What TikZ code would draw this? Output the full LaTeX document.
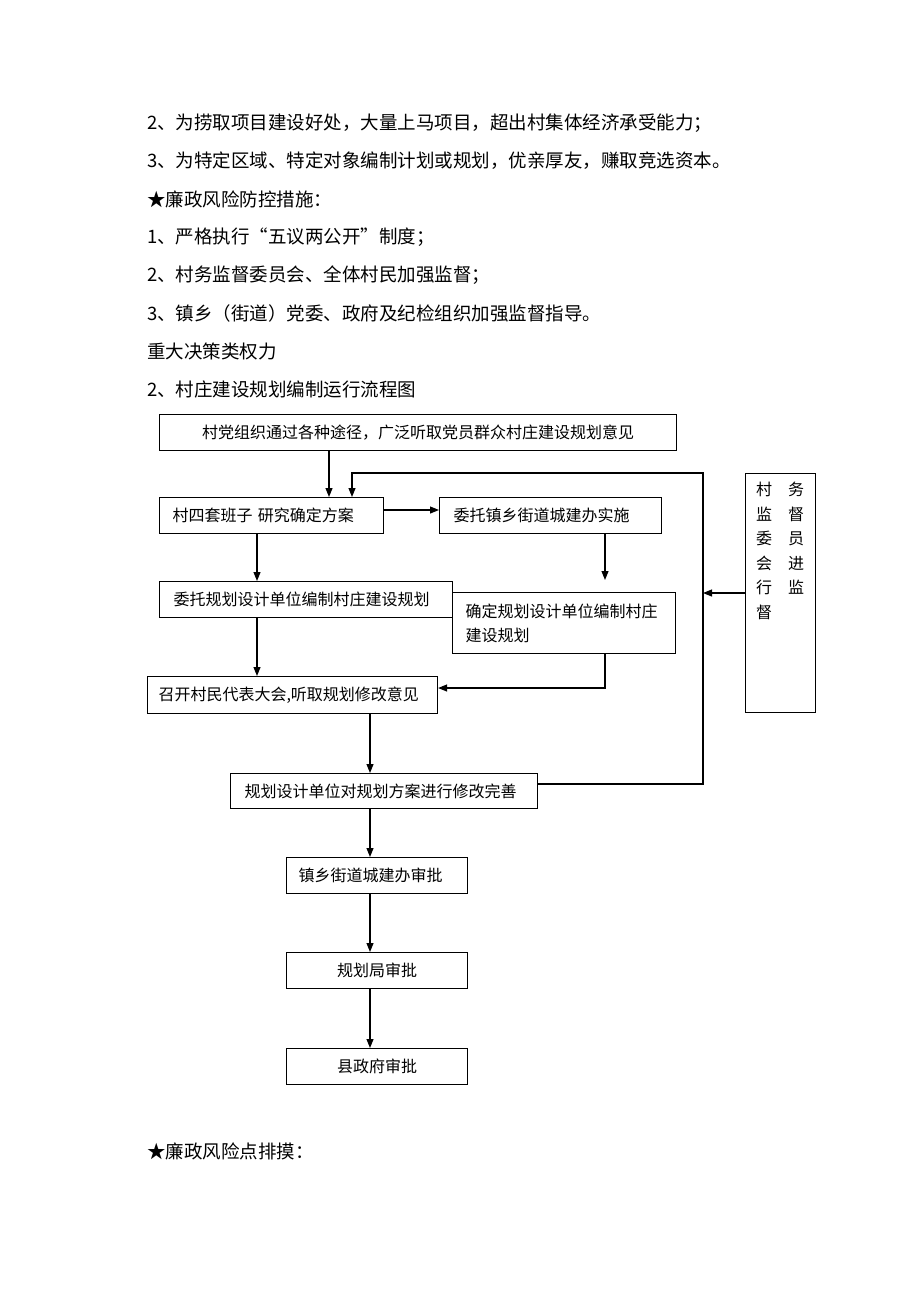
\documentclass[tikz,border=0pt]{standalone}
\usepackage{fontspec}
\setmainfont{Noto Sans CJK SC}
\usetikzlibrary{arrows.meta}
\begin{document}
\begin{tikzpicture}[x=1pt,y=-1pt,
  body/.style={anchor=west,inner sep=0pt,font=\fontsize{18.5}{20}\selectfont},
  box/.style={draw,line width=1.1pt,inner sep=0pt,anchor=north west,font=\fontsize{16}{24}\selectfont},
  lbox/.style={box,align=left},
  arr/.style={line width=1.1pt,-{Triangle[length=9pt,width=7pt]}},
  ln/.style={line width=1.1pt}]
\useasboundingbox (0,0) rectangle (920,1302);
\fill[white] (0,0) rectangle (920,1302);

% body text
\node[body] (t1) at (147,123) {2、为捞取项目建设好处，大量上马项目，超出村集体经济承受能力；};
\node[body] (t2) at (147,161) {3、为特定区域、特定对象编制计划或规划，优亲厚友，赚取竞选资本。};
\node[body] (t3) at (147,199) {★廉政风险防控措施：};
\node[body] (t4) at (147,237) {1、严格执行“五议两公开”制度；};
\node[body] (t5) at (147,275) {2、村务监督委员会、全体村民加强监督；};
\node[body] (t6) at (147,313) {3、镇乡（街道）党委、政府及纪检组织加强监督指导。};
\node[body] (t7) at (147,351) {重大决策类权力};
\node[body] (t8) at (147,389) {2、村庄建设规划编制运行流程图};
\node[body] (t9) at (147,1151) {★廉政风险点排摸：};

% boxes
\node[box,minimum width=517pt,minimum height=36pt] (top) at (159,414) {村党组织通过各种途径，广泛听取党员群众村庄建设规划意见};
\node[lbox,minimum width=224pt,minimum height=36pt,text width=198pt] (b2) at (159,497) {村四套班子 研究确定方案};
\node[lbox,minimum width=222pt,minimum height=36pt,text width=194pt] (b3) at (439,497) {委托镇乡街道城建办实施};
\node[lbox,minimum width=293pt,minimum height=36pt,text width=265pt] (b4) at (159,581) {委托规划设计单位编制村庄建设规划};
\node[lbox,minimum width=223pt,minimum height=61pt,text width=197pt] (b5) at (452,592) {确定规划设计单位编制村庄\\建设规划};
\node[lbox,minimum width=290pt,minimum height=37pt,text width=268pt] (b6) at (147,676) {召开村民代表大会,听取规划修改意见};
\node[lbox,minimum width=307pt,minimum height=35pt,text width=279pt] (b7) at (230,773) {规划设计单位对规划方案进行修改完善};
\node[lbox,minimum width=181pt,minimum height=36pt,text width=157pt] (b8) at (286,857) {镇乡街道城建办审批};
\node[box,minimum width=181pt,minimum height=36pt] (b9) at (286,952) {规划局审批};
\node[box,minimum width=181pt,minimum height=36pt] (b10) at (286,1048) {县政府审批};
\node[box,minimum width=70pt,minimum height=239pt] (mon) at (745,473) {};
\node[anchor=north,inner sep=0pt,align=center,font=\fontsize{16}{24.5}\selectfont] (mc1) at (764,482) {村\\监\\委\\会\\行\\督};
\node[anchor=north,inner sep=0pt,align=center,font=\fontsize{16}{24.5}\selectfont] (mc2) at (796,482) {务\\督\\员\\进\\监};

% helper coordinates
\coordinate (xa) at (329,0);
\coordinate (xb) at (257,0);
\coordinate (xc) at (370,0);
\coordinate (xd) at (352,0);
\coordinate (ya) at (0,510);
\coordinate (yc) at (0,688);
\coordinate (yd) at (0,784);
\coordinate (ye) at (0,593);
\coordinate (e5) at (605,580);
\coordinate (fb) at (703,473);

% connectors
\draw[arr] (top.south -| xa) -- (b2.north -| xa);
\draw[arr] (b2.east |- ya) -- (b3.west |- ya);
\draw[arr] (b2.south -| xb) -- (b4.north -| xb);
\draw[arr] (b3.south -| e5) -- (e5);
\draw[arr] (b4.south -| xb) -- (b6.north -| xb);
\draw[arr] (b5.south -| e5) -- (e5 |- yc) -- (b6.east |- yc);
\draw[arr] (b6.south -| xc) -- (b7.north -| xc);
\draw[arr] (b7.south -| xc) -- (b8.north -| xc);
\draw[arr] (b8.south -| xc) -- (b9.north -| xc);
\draw[arr] (b9.south -| xc) -- (b10.north -| xc);
\draw[arr] (b7.east |- yd) -- (fb |- yd) -- (fb) -- (xd |- fb) -- (b2.north -| xd);
\draw[arr] (mon.west |- ye) -- (fb |- ye);
\end{tikzpicture}
\end{document}
